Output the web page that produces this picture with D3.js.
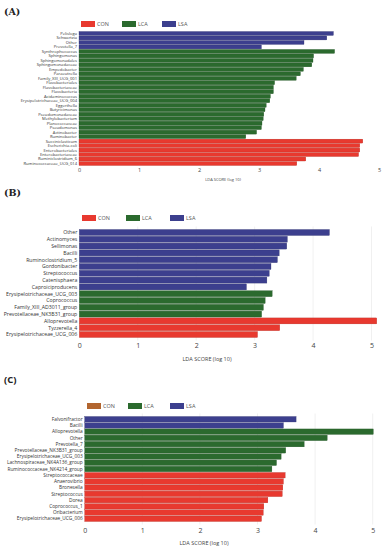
<!DOCTYPE html>
<html>
<head>
<meta charset="utf-8">
<script src="https://cdn.jsdelivr.net/npm/d3@7"></script>
<style>
  body { margin: 0; background: #fff; }
  svg { display: block; }
</style>
</head>
<body>
<div id="chart"></div>
<script>
// ---- data ----
const groups = ["CON", "LCA", "LSA"];

const taxaA = ["Pelisloga", "Schwartzia", "Other", "Prevotella_7",
  "Synthrophococcus", "Sphingomonas", "Sphingomonadales", "Sphingomonadaceae",
  "Empedobacter", "Paraeutrella", "Family_XIII_UCG_001", "Flavobacteriales",
  "Flavobacteriaceae", "Flavobacteria", "Acidaminococcus", "Erysipelotrichaceae_UCG_004",
  "Eggerthella", "Butyricimonas", "Pseudomonadaceae", "Methylobacterium",
  "Planococcaceae", "Pseudomonas", "Actinobacter", "Ruminobacter",
  "Succiniclasticum", "Escherichia-coli", "Enterobacteriales", "Enterobacteriaceae",
  "Ruminiclostridium_6", "Ruminococcaceae_UCG_014"];
const scoresA = [4.24, 4.13, 3.75, 3.04,
  4.26, 3.91, 3.90, 3.88, 3.74, 3.69, 3.62, 3.26, 3.24, 3.24,
  3.19, 3.18, 3.12, 3.10, 3.08, 3.07, 3.05, 3.04, 2.96, 2.78,
  4.73, 4.68, 4.68, 4.66, 3.78, 3.63];
const groupsA = ["LSA", "LSA", "LSA", "LSA",
  "LCA", "LCA", "LCA", "LCA", "LCA", "LCA", "LCA", "LCA", "LCA", "LCA",
  "LCA", "LCA", "LCA", "LCA", "LCA", "LCA", "LCA", "LCA", "LCA", "LCA",
  "CON", "CON", "CON", "CON", "CON", "CON"];

const taxaB = ["Other", "Actinomyces", "Sellimonas", "Bacilli", "Ruminoclostridium_5",
  "Gordonibacter", "Streptococcus", "Catenisphaera", "Caproiciproducens",
  "Erysipelotrichaceae_UCG_003", "Coprococcus", "Family_XIII_AD3011_group",
  "Prevotellaceae_NK3B31_group", "Alloprevotella", "Tyzzerella_4",
  "Erysipelotrichaceae_UCG_006"];
const scoresB = [4.28, 3.56, 3.55, 3.42, 3.39, 3.28, 3.25, 3.21, 2.86,
  3.30, 3.18, 3.15, 3.12, 5.09, 3.43, 3.05];
const groupsB = ["LSA", "LSA", "LSA", "LSA", "LSA", "LSA", "LSA", "LSA", "LSA",
  "LCA", "LCA", "LCA", "LCA", "CON", "CON", "CON"];

const taxaC = ["Falvonifractor", "Bacilli", "Alloprevotella", "Other", "Prevotella_7",
  "Prevotellaceae_NK3B31_group", "Erysipelotrichaceae_UCG_003",
  "Lachnospiraceae_NK4A136_group", "Ruminococcaceae_NK4214_group",
  "Streptococcaceae", "Anaerovibrio", "Bronesella", "Streptococcus", "Dorea",
  "Coprococcus_1", "Oribacterium", "Erysipelotrichaceae_UCG_006"];
const scoresC = [3.67, 3.45, 5.01, 4.21, 3.81, 3.49, 3.41, 3.33, 3.25,
  3.48, 3.45, 3.44, 3.43, 3.18, 3.11, 3.10, 3.07];
const groupsC = ["LSA", "LSA", "LCA", "LCA", "LCA", "LCA", "LCA", "LCA", "LCA",
  "CON", "CON", "CON", "CON", "CON", "CON", "CON", "CON"];

const xTicks = [0, 1, 2, 3, 4, 5];

// ---- styling ----
const COLORS = { CON: "#e8392f", LCA: "#2b6a2e", LSA: "#3c3f8e" };
const LEGEND_C = { CON: "#b2652f", LCA: "#2b6a2e", LSA: "#3c3f8e" };

const svg = d3.select("#chart").append("svg")
  .attr("width", 386).attr("height", 550);

function drawPanel(opt) {
  const { label, labelY, legendY, legendX, top, bottom, x0, x5, tickY, titleY, titleX,
          taxa, scores, grp, font, tickFont, legendColors, grid, labelFont } = opt;

  svg.append("text")
    .attr("x", 4).attr("y", labelY)
    .style("font-family", labelFont)
    .style("font-weight", "bold")
    .style("font-size", "9.5px")
    .attr("fill", "#222")
    .text(label);

  const x = d3.scaleLinear().domain([0, 5]).range([x0, x5]);
  const y = d3.scaleBand().domain(taxa).range([top, bottom]).paddingInner(0.12);

  if (grid) {
    svg.append("g").selectAll("line")
      .data(xTicks.slice(1))
      .join("line")
      .attr("x1", d => x(d)).attr("x2", d => x(d))
      .attr("y1", top - 3).attr("y2", bottom + 3)
      .attr("stroke", "#e6e6e6")
      .attr("stroke-width", 0.6);
  }

  const rows = taxa.map((t, i) => ({ taxon: t, score: scores[i], group: grp[i] }));

  svg.append("g").selectAll("rect")
    .data(rows)
    .join("rect")
    .attr("x", x(0))
    .attr("y", d => y(d.taxon))
    .attr("width", d => x(d.score) - x(0))
    .attr("height", y.bandwidth())
    .attr("fill", d => COLORS[d.group])
    .attr("stroke", d => d3.color(COLORS[d.group]).darker(0.8))
    .attr("stroke-width", 0.3);

  svg.append("g").selectAll("text")
    .data(rows)
    .join("text")
    .attr("x", x(0) - 2)
    .attr("y", d => y(d.taxon) + y.bandwidth() / 2)
    .attr("dy", "0.35em")
    .attr("text-anchor", "end")
    .style("font-family", "Open Sans, sans-serif")
    .style("font-size", font + "px")
    .attr("fill", "#333")
    .text(d => d.taxon);

  const axis = svg.append("g")
    .attr("transform", `translate(0,${tickY})`)
    .call(d3.axisBottom(x).tickValues(xTicks).tickFormat(d3.format("d")).tickSize(0));
  axis.select(".domain").remove();
  axis.selectAll("text")
    .attr("y", 0)
    .attr("dy", "0.35em")
    .style("font-family", "Open Sans, sans-serif")
    .style("font-size", tickFont + "px")
    .attr("fill", "#444");

  svg.append("text")
    .attr("x", titleX).attr("y", titleY)
    .attr("text-anchor", "middle")
    .style("font-family", "Open Sans, sans-serif")
    .style("font-size", (tickFont - 1.5) + "px")
    .attr("fill", "#444")
    .text("LDA SCORE (log 10)");

  const leg = svg.append("g").selectAll("g")
    .data(groups)
    .join("g")
    .attr("transform", (d, i) => `translate(${legendX[i]},${legendY})`);
  leg.append("rect")
    .attr("x", 0).attr("y", -3)
    .attr("width", 14).attr("height", 6)
    .attr("fill", d => legendColors[d]);
  leg.append("text")
    .attr("x", 16).attr("y", 0)
    .attr("dy", "0.35em")
    .style("font-family", "Open Sans, sans-serif")
    .style("font-size", "5.5px")
    .attr("fill", "#555")
    .text(d => d);
}

drawPanel({
  label: "(A)", labelY: 15, legendY: 24, legendX: [81, 122, 162],
  top: 31.5, bottom: 165.5, x0: 79, x5: 379, tickY: 170, titleY: 181, titleX: 223,
  taxa: taxaA, scores: scoresA, grp: groupsA, font: 4.1, tickFont: 5.5,
  legendColors: COLORS, grid: false, labelFont: "DejaVu Serif, serif"
});

drawPanel({
  label: "(B)", labelY: 196, legendY: 218, legendX: [82, 126, 170],
  top: 229.5, bottom: 337.5, x0: 79.3, x5: 371.5, tickY: 346, titleY: 361, titleX: 207,
  taxa: taxaB, scores: scoresB, grp: groupsB, font: 5.2, tickFont: 7,
  legendColors: COLORS, grid: true, labelFont: "DejaVu Serif, serif"
});

drawPanel({
  label: "(C)", labelY: 383, legendY: 406, legendX: [87, 128, 170],
  top: 416.5, bottom: 521.5, x0: 84.7, x5: 372.7, tickY: 531, titleY: 545, titleX: 204,
  taxa: taxaC, scores: scoresC, grp: groupsC, font: 4.8, tickFont: 7,
  legendColors: LEGEND_C, grid: true, labelFont: "Open Sans, sans-serif"
});
</script>
</body>
</html>
